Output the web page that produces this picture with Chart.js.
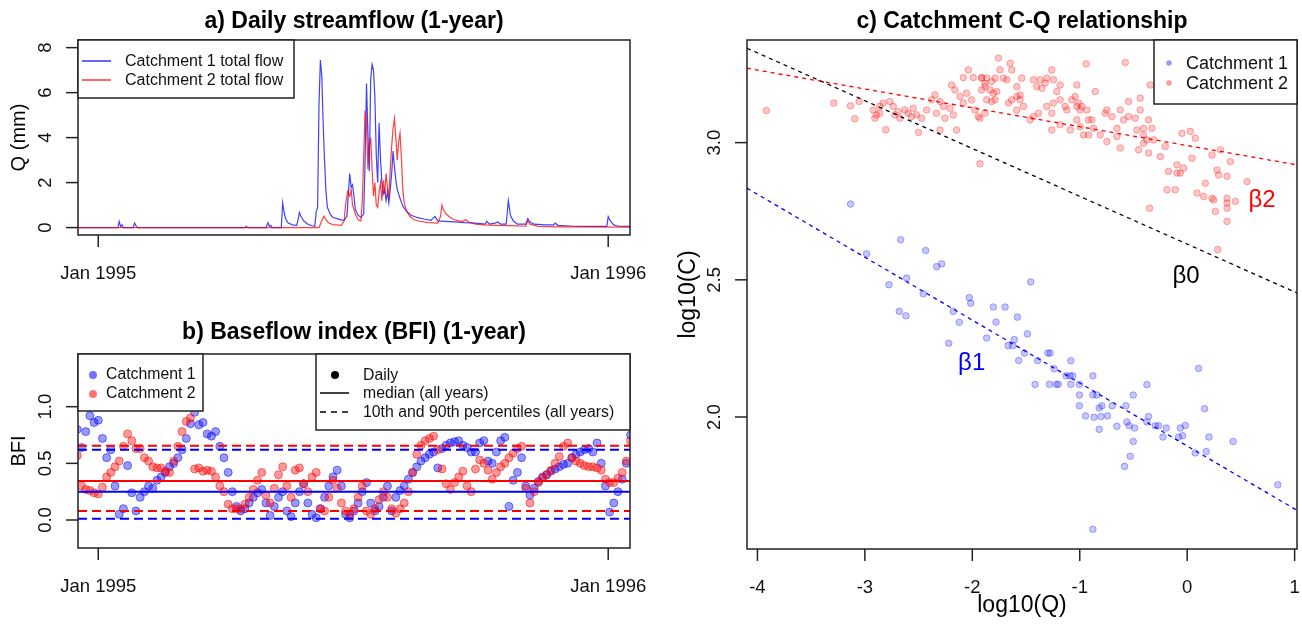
<!DOCTYPE html>
<html>
<head>
<meta charset="utf-8">
<script src="https://cdn.jsdelivr.net/npm/chart.js@4.4.1/dist/chart.umd.min.js"></script>
<style>
html, body { margin: 0; padding: 0; background: #fff; }
#wrap { position: relative; width: 1302px; height: 625px; overflow: hidden; background: #fff; }
canvas { position: absolute; }
</style>
</head>
<body>
<div id="wrap">
  <canvas id="flow" width="650" height="300" style="left:0;top:0"></canvas>
  <canvas id="bfi" width="650" height="325" style="left:0;top:300px"></canvas>
  <canvas id="cq" width="652" height="625" style="left:650px;top:0"></canvas>
</div>
<script>
// ---- a) daily streamflow (days since 1 Jan 1995, mm) ----
var flowDays1 = [-15, 14, 15, 16, 17, 18, 25, 26, 27, 28, 105, 106, 107, 120, 121.5, 122.5, 123.5, 124.5,
  131, 132, 133, 134, 136, 139, 142, 143, 144, 145, 147, 150, 153, 155, 156, 157, 158, 159, 160, 161,
  162, 163, 164, 166, 168, 171, 174, 176, 178, 179, 180, 181, 182, 183, 184, 186, 188, 190, 191, 192,
  193, 194, 195, 196, 197, 198, 199, 200, 201, 202, 203, 204, 205, 206, 207, 208, 209, 210, 211, 212,
  213, 214, 216, 218, 221, 224, 228, 233, 238, 241, 243, 248, 255, 262, 270, 277, 278, 280, 284, 286,
  288, 292, 293.5, 295, 297, 300, 306, 307.5, 309, 312, 320, 326, 327, 329, 340, 355, 364, 365, 366,
  367.5, 369, 372, 381];
var flowQ1 = [0, 0, 0.27, 0.05, 0.12, 0, 0, 0.2, 0.08, 0, 0, 0.06, 0, 0, 0.22, 0.05, 0.1, 0,
  0, 1.1, 0.7, 0.4, 0.2, 0.12, 0.1, 0.35, 0.67, 0.5, 0.3, 0.15, 0.08, 0.06, 0.7, 0.9, 5.5, 7.45, 6.75, 4.6,
  2.9, 1.6, 0.9, 0.6, 0.45, 0.4, 0.33, 0.33, 0.5, 1.5, 2.4, 1.8, 1.9, 1.4, 0.8, 0.55, 0.45, 0.6, 3.0, 6.4,
  4.2, 2.5, 6.6, 7.25, 7.0, 5.8, 3.2, 2.0, 4.65, 3.1, 2.0, 1.5, 1.7, 1.2, 1.6, 1.1, 1.7, 2.4, 3.4, 2.7,
  2.1, 1.7, 1.3, 0.95, 0.7, 0.55, 0.45, 0.38, 0.32, 0.5, 0.3, 0.28, 0.25, 0.22, 0.2, 0.15, 0.28, 0.15, 0.2, 0.25,
  0.15, 0.15, 1.2, 0.55, 0.3, 0.15, 0.15, 0.4, 0.25, 0.15, 0.12, 0.12, 0.2, 0.1, 0.06, 0.05, 0.05, 0.49, 0.35,
  0.22, 0.12, 0.06, 0.05];
var flowDays2 = [-15, 158, 160, 161.5, 163, 165, 168, 174, 176, 177, 178.5, 180, 181, 182, 184, 186, 188,
  189, 190, 191, 192, 193, 194, 195, 196, 197, 198, 199, 200, 201, 202, 203, 204, 205, 206, 207, 208,
  209, 210, 211, 212, 213, 214, 215, 216, 217, 218, 219, 221, 223, 226, 230, 236, 243, 245, 246, 247,
  249, 252, 255, 258, 261, 263, 265, 270, 276, 285, 300, 306, 307.5, 309, 315, 330, 381];
var flowQ2 = [0, 0, 0.3, 0.5, 0.35, 0.2, 0.13, 0.1, 0.3, 1.0, 1.6, 1.4, 1.7, 1.0, 0.6, 0.35, 0.3,
  1.2, 3.2, 5.2, 4.6, 2.6, 3.6, 4.0, 2.6, 1.4, 2.0, 1.0, 0.9, 1.6, 2.0, 1.2, 2.1, 1.5, 2.4, 1.8, 1.3,
  2.6, 3.6, 4.4, 4.86, 4.0, 3.0, 3.8, 4.2, 3.1, 1.7, 1.1, 0.7, 0.5, 0.35, 0.28, 0.22, 0.2, 0.5, 1.0, 0.8,
  0.6, 0.45, 0.35, 0.3, 0.28, 0.35, 0.25, 0.15, 0.12, 0.1, 0.08, 0.06, 0.3, 0.15, 0.05, 0.03, 0.02];
var dateTicks = [0, 365];
var dateLabels = ["Jan 1995", "Jan 1996"];
var flowTicks = [0, 2, 4, 6, 8];

// ---- b) baseflow index, daily values read every third day ----
var bfiDays = [-15, -12, -9, -6, -3, 0, 3, 6, 9, 12,
  15, 18, 21, 24, 27, 30, 33, 36, 39, 42,
  45, 48, 51, 54, 57, 60, 63, 66, 69, 72,
  75, 78, 81, 84, 87, 90, 93, 96, 99, 102,
  105, 108, 111, 114, 117, 120, 123, 126, 129, 132,
  135, 138, 141, 144, 147, 150, 153, 156, 159, 162,
  165, 168, 171, 174, 177, 180, 183, 186, 189, 192,
  195, 198, 201, 204, 207, 210, 213, 216, 219, 222,
  225, 228, 231, 234, 237, 240, 243, 246, 249, 252,
  255, 258, 261, 264, 267, 270, 273, 276, 279, 282,
  285, 288, 291, 294, 297, 300, 303, 306, 309, 312,
  315, 318, 321, 324, 327, 330, 333, 336, 339, 342,
  345, 348, 351, 354, 357, 360, 363, 366, 369, 372,
  375, 378, 381];
var bfi1 = [0.80, 0.64, 0.78, 0.92, 0.86, 0.88, 0.72, 0.55, 0.62, 0.30,
  0.05, 0.10, 0.48, 0.24, 0.08, 0.20, 0.25, 0.30, 0.28, 0.35,
  0.38, 0.42, 0.47, 0.50, 0.55, 0.62, 0.72, 0.85, 0.95, 0.84,
  0.86, 0.76, 0.74, 0.78, 0.65, 0.55, 0.42, 0.25, 0.12, 0.08,
  0.10, 0.15, 0.20, 0.24, 0.27, 0.15, 0.04, 0.12, 0.20, 0.25,
  0.08, 0.03, 0.15, 0.25, 0.32, 0.15, 0.05, 0.02, 0.10, 0.20,
  0.30, 0.38, 0.44, 0.30, 0.05, 0.02, 0.08, 0.15, 0.25, 0.33,
  0.15, 0.08, 0.12, 0.20, 0.30, 0.08, 0.20, 0.26, 0.30, 0.36,
  0.42, 0.47, 0.52, 0.55, 0.58, 0.60, 0.46, 0.63, 0.66, 0.68,
  0.69, 0.70, 0.66, 0.64, 0.60, 0.60, 0.68, 0.70, 0.52, 0.50,
  0.60, 0.70, 0.73, 0.12, 0.35, 0.42, 0.55, 0.30, 0.22, 0.28,
  0.34, 0.38, 0.40, 0.43, 0.45, 0.47, 0.49, 0.50, 0.55, 0.58,
  0.60, 0.62, 0.63, 0.60, 0.68, 0.50, 0.30, 0.07, 0.15, 0.25,
  0.36, 0.50, 0.75];
var bfi2 = [0.57, 0.30, 0.27, 0.26, 0.24, 0.23, 0.29, 0.38, 0.42, 0.47,
  0.52, 0.65, 0.76, 0.70, 0.63, 0.63, 0.55, 0.52, 0.47, 0.46,
  0.46, 0.43, 0.42, 0.52, 0.65, 0.78, 0.87, 0.90, 0.45, 0.46,
  0.43, 0.44, 0.43, 0.38, 0.30, 0.25, 0.14, 0.10, 0.10, 0.10,
  0.14, 0.20, 0.27, 0.35, 0.42, 0.22, 0.15, 0.28, 0.40, 0.47,
  0.30, 0.20, 0.44, 0.46, 0.32, 0.25, 0.38, 0.42, 0.10, 0.08,
  0.20, 0.35, 0.28, 0.15, 0.08, 0.05, 0.10, 0.20, 0.30, 0.08,
  0.05, 0.10, 0.18, 0.25, 0.20, 0.10, 0.06, 0.10, 0.15, 0.25,
  0.42, 0.58, 0.66, 0.70, 0.72, 0.74, 0.62, 0.45, 0.32, 0.27,
  0.33, 0.38, 0.43, 0.30, 0.25, 0.45, 0.53, 0.50, 0.44, 0.36,
  0.42, 0.47, 0.50, 0.55, 0.59, 0.63, 0.65, 0.28, 0.15, 0.25,
  0.33, 0.37, 0.40, 0.44, 0.50, 0.56, 0.65, 0.68, 0.55, 0.52,
  0.50, 0.48, 0.47, 0.47, 0.46, 0.44, 0.36, 0.33, 0.33, 0.37,
  0.42, 0.52, 0.70];
var bfiMedian = [0.25, 0.344];   // catchment 1, catchment 2
var bfiP10 = [0.012, 0.079];
var bfiP90 = [0.62, 0.656];
var bfiTicks = [0, 0.5, 1];
var bfiTickLabels = ["0.0", "0.5", "1.0"];

// ---- c) C-Q relationship (log10 Q, log10 C) ----
var cq1Q = [-3.133, -2.667, -2.984, -2.776, -2.611, -2.434, -2.332, -2.285, -2.457, -2.68, -2.618, -2.177,
  -2.028, -2.015, -2.121, -2.22, -1.866, -1.456, -1.804, -1.695, -1.58, -1.779, -1.487, -1.667, -1.624,
  -1.609, -1.515, -1.568, -1.391, -1.297, -1.276, -1.239, -1.416, -1.283, -1.22, -1.199, -1.127, -1.09,
  -1.065, -1.083, -1.083, -1.003, -1.003, -0.878, -0.878, -0.841, -1.003, -0.947, -0.866, -0.803, -0.819,
  -0.794, -0.819, -0.742, -0.698, -0.654, -0.57, -0.502, -0.561, -0.54, -0.49, -0.502, -0.53, -0.583,
  -0.375, -0.36, -0.375, -0.297, -0.267, -0.226, -0.195, -0.08, -0.064, -0.043, -0.018, 0.075, 0.106,
  0.162, 0.178, 0.203, 0.427, 0.843, -0.878];
var cq1C = [2.776, 2.646, 2.595, 2.482, 2.506, 2.607, 2.548, 2.558, 2.449, 2.385, 2.369, 2.385,
  2.435, 2.415, 2.345, 2.269, 2.288, 2.492, 2.401, 2.401, 2.364, 2.346, 2.303, 2.26, 2.26,
  2.282, 2.233, 2.206, 2.206, 2.233, 2.233, 2.176, 2.119, 2.119, 2.119, 2.119, 2.15, 2.15,
  2.15, 2.205, 2.119, 2.119, 2.08, 2.15, 2.08, 2.08, 2.041, 2.004, 1.999, 2.002, 2.033,
  2.041, 1.955, 2.004, 2.041, 1.966, 2.041, 2.08, 1.982, 1.968, 1.96, 1.911, 1.857, 1.82,
  2.118, 2.002, 1.982, 1.968, 1.968, 1.927, 1.96, 1.927, 1.96, 1.932, 1.969, 1.869, 2.177,
  2.03, 1.874, 1.927, 1.911, 1.753, 1.591];
var cq2Q = [-3.917, -3.289, -3.134, -3.053, -3.094, -2.923, -2.892, -2.861, -2.83, -2.907, -2.805, -2.767,
  -2.736, -2.69, -2.674, -2.628, -2.597, -2.55, -2.519, -2.472, -2.5, -2.348, -2.301, -2.27, -2.333,
  -2.255, -2.208, -2.177, -2.301, -2.146, -2.193, -2.162, -2.115, -2.084, -2.053, -2.006, -1.975, -1.944,
  -2.037, -2.084, -1.991, -1.913, -1.882, -1.913, -1.929, -1.929, -1.882, -2.861, -2.721, -2.566, -2.426,
  -2.379,
  -1.757, -1.648, -1.742, -1.912, -1.866, -1.819, -1.788, -1.711, -1.679, -1.881, -1.835, -1.804, -1.773,
  -1.633, -1.54, -1.586, -1.866, -1.819, -1.788, -1.664, -1.633, -1.586, -1.555, -1.524, -1.586, -1.555,
  -1.431, -1.369, -1.307, -1.4, -1.353, -1.322, -1.245, -1.26, -1.182, -1.213, -1.431, -1.384, -1.462,
  -1.307, -1.26, -1.245, -1.182, -1.136, -1.12, -1.074, -1.043, -1.027, -0.996, -1.012, -0.98, -1.027,
  -0.856, -0.94, -1.26, -1.182, -1.089, -1.027, -0.996, -0.934, -0.918, -0.887, -0.872, -0.965, -0.763,
  -0.701, -0.654, -0.592, -0.546, -0.483, -0.468, -0.406, -0.359, -0.328, -0.748, -0.623, -0.546, -0.437,
  -0.437, -0.654, -0.748, -0.81, -0.918, -0.577, -0.344, -0.623, -0.452, -0.406, -0.359, -0.25, -0.204,
  -0.406, -0.375, -0.313, -0.173, -0.095, -0.049, 0.029, 0.076, 0.045, -0.033, -0.188, -0.111, -0.095,
  -0.064, 0.091, 0.153, 0.231, 0.169, 0.231, 0.309, 0.278, 0.293, 0.371, 0.402, 0.247, 0.371, 0.371,
  0.448, 0.262, 0.371, 0.557, 0.371, -0.35, 0.284];
var cq2C = [3.117, 3.144, 3.134, 3.15, 3.087, 3.119, 3.101, 3.132, 3.144, 3.089, 3.047, 3.15,
  3.132, 3.113, 3.089, 3.119, 3.107, 3.125, 3.101, 3.089, 3.037, 3.174, 3.15, 3.132, 3.107,
  3.089, 3.125, 3.101, 3.046, 3.046, 3.21, 3.192, 3.168, 3.144, 3.18, 3.156, 3.119, 3.095,
  3.265, 3.237, 3.237, 3.237, 3.216, 3.192, 2.923, 3.089, 3.107, 3.107, 3.101, 3.095, 3.119,
  3.156,
  3.308, 3.289, 3.265, 3.235, 3.235, 3.223, 3.235, 3.235, 3.229, 3.204, 3.192, 3.18, 3.186,
  3.265, 3.235, 3.204, 3.156, 3.15, 3.156, 3.144, 3.156, 3.119, 3.156, 3.132, 3.168, 3.174,
  3.229, 3.229, 3.235, 3.204, 3.198, 3.217, 3.229, 3.265, 3.21, 3.186, 3.095, 3.107, 3.083,
  3.132, 3.107, 3.144, 3.156, 3.132, 3.119, 3.156, 3.168, 3.132, 3.119, 3.144, 3.132, 3.21,
  3.186, 3.287, 3.046, 3.065, 3.046, 3.083, 3.058, 3.119, 3.083, 3.083, 3.052, 3.028, 3.107,
  3.095, 3.052, 3.083, 3.095, 3.089, 3.046, 3.052, 3.083, 3.052, 3.119, 3.119, 3.15, 3.162,
  3.119, 3.022, 3.004, 3.028, 3.028, 3.292, 3.21, 2.98, 2.974, 2.998, 2.962, 2.949, 2.986,
  3.028, 3.01, 3.01, 2.895, 2.919, 3.034, 3.041, 3.016, 2.943, 2.907, 2.828, 2.828, 2.889,
  2.889, 2.816, 2.804, 2.797, 2.852, 2.955, 2.974, 2.9, 2.882, 2.877, 2.931, 2.791, 2.797, 2.78,
  2.786, 2.749, 2.713, 2.858, 2.761, 2.761, 2.61];
// fitted C-Q lines, evaluated at the plot edges
var fitQ = [-4.097, 1.022];
var fitAll = [3.344, 2.452];
var fitC1 = [2.834, 1.660];
var fitC2 = [3.271, 2.919];
var betaText = ["\u03b22", "\u03b20", "\u03b21"];
var betaQ = [0.697, -0.011, -2.006];
var betaC = [2.791, 2.512, 2.197];
var betaColor = ["#ff0000", "#000000", "#0000ff"];
var cqXTicks = [-4, -3, -2, -1, 0, 1];
var cqYTicks = [2, 2.5, 3];
var cqYLabels = ["2.0", "2.5", "3.0"];

var FONT = '"Liberation Sans", Arial, sans-serif';
var dayRange = [-14.5, 380.6];

function pts(xs, ys) {
  return xs.map(function (x, i) { return { x: x, y: ys[i] }; });
}

function baseOptions(pad, xr, yr) {
  return {
    responsive: false,
    animation: false,
    devicePixelRatio: 1,
    layout: { padding: pad },
    plugins: { legend: { display: false }, tooltip: { enabled: false } },
    scales: {
      x: { type: 'linear', display: false, min: xr[0], max: xr[1] },
      y: { type: 'linear', display: false, min: yr[0], max: yr[1] }
    }
  };
}

// R-style box, ticks, rotated y labels, titles
function frame(o) {
  return {
    id: 'frame',
    afterDraw: function (chart) {
      var c = chart.ctx, a = chart.chartArea, sx = chart.scales.x, sy = chart.scales.y;
      c.save();
      c.strokeStyle = '#222';
      c.lineWidth = 1.5;
      c.strokeRect(a.left, a.top, a.right - a.left, a.bottom - a.top);
      c.fillStyle = '#111';
      c.font = '18.5px ' + FONT;
      c.textAlign = 'center';
      c.textBaseline = 'alphabetic';
      o.xTicks.forEach(function (v, i) {
        var p = sx.getPixelForValue(v);
        c.beginPath(); c.moveTo(p, a.bottom); c.lineTo(p, a.bottom + 12); c.stroke();
        c.fillText(o.xLabels[i], p, a.bottom + 44);
      });
      o.yTicks.forEach(function (v, i) {
        var p = sy.getPixelForValue(v);
        c.beginPath(); c.moveTo(a.left, p); c.lineTo(a.left - 12, p); c.stroke();
        c.save();
        c.translate(a.left - 27, p);
        c.rotate(-Math.PI / 2);
        c.fillText(o.yLabels[i], 0, 0);
        c.restore();
      });
      c.fillStyle = '#000';
      c.font = 'bold 23px ' + FONT;
      c.fillText(o.title, (a.left + a.right) / 2, o.titleY);
      c.font = o.axisFont + 'px ' + FONT;
      if (o.xTitle) c.fillText(o.xTitle, (a.left + a.right) / 2, a.bottom + o.xTitleOff);
      if (o.yTitle) {
        c.save();
        c.translate(o.yTitleX, (a.top + a.bottom) / 2);
        c.rotate(-Math.PI / 2);
        c.fillText(o.yTitle, 0, 0);
        c.restore();
      }
      if (o.extra) o.extra(c, chart);
      c.restore();
    }
  };
}

function box(c, x0, y0, x1, y1) {
  c.fillStyle = '#fff';
  c.fillRect(x0, y0, x1 - x0, y1 - y0);
  c.strokeStyle = '#222';
  c.lineWidth = 1.5;
  c.setLineDash([]);
  c.strokeRect(x0, y0, x1 - x0, y1 - y0);
}
function seg(c, x0, x1, y, col, w, dash) {
  c.strokeStyle = col; c.lineWidth = w; c.setLineDash(dash || []);
  c.beginPath(); c.moveTo(x0, y); c.lineTo(x1, y); c.stroke();
  c.setLineDash([]);
}
function dot(c, x, y, r, fill) {
  c.fillStyle = fill;
  c.beginPath(); c.arc(x, y, r, 0, Math.PI * 2); c.fill();
}
function label(c, txt, x, y, size, col) {
  c.font = size + 'px ' + FONT;
  c.fillStyle = col || '#111';
  c.textAlign = 'left';
  c.textBaseline = 'middle';
  c.fillText(txt, x, y);
}

// ---------- panel a ----------
new Chart(document.getElementById('flow'), {
  type: 'scatter',
  data: {
    datasets: [
      { data: pts(flowDays2, flowQ2), showLine: true, borderColor: 'rgba(255,0,0,0.75)', borderWidth: 1.2,
        pointRadius: 0, order: 0 },
      { data: pts(flowDays1, flowQ1), showLine: true, borderColor: 'rgba(0,0,255,0.75)', borderWidth: 1.2,
        pointRadius: 0, order: 1 }
    ]
  },
  options: baseOptions({ left: 78, top: 40, right: 20, bottom: 65 }, dayRange, [-0.33, 8.34]),
  plugins: [frame({
    xTicks: dateTicks, xLabels: dateLabels,
    yTicks: flowTicks, yLabels: flowTicks.map(String),
    title: 'a) Daily streamflow (1-year)', titleY: 28,
    axisFont: 20, yTitle: 'Q (mm)', yTitleX: 25,
    extra: function (c) {
      box(c, 78, 40, 294, 98);
      seg(c, 82, 111, 61, '#3333ff', 1.5);
      seg(c, 82, 111, 80, '#ff3333', 1.5);
      label(c, 'Catchment 1 total flow', 125, 62, 16);
      label(c, 'Catchment 2 total flow', 125, 81, 16);
    }
  })]
});

// ---------- panel b ----------
function hline(v, col, dash) {
  return { data: pts(dayRange, [v, v]), showLine: true, borderColor: col, borderWidth: 2,
    borderDash: dash || [], pointRadius: 0, order: 0 };
}
new Chart(document.getElementById('bfi'), {
  type: 'scatter',
  data: {
    datasets: [
      hline(bfiMedian[0], '#0000ff'), hline(bfiMedian[1], '#ff0000'),
      hline(bfiP10[0], '#0000ff', [9, 5]), hline(bfiP10[1], '#ff0000', [9, 5]),
      hline(bfiP90[0], '#0000ff', [9, 5]), hline(bfiP90[1], '#ff0000', [9, 5]),
      { data: pts(bfiDays, bfi2), pointRadius: 4, pointBackgroundColor: 'rgba(255,0,0,0.4)',
        pointBorderColor: 'rgba(255,0,0,0.5)', pointBorderWidth: 1, order: 1 },
      { data: pts(bfiDays, bfi1), pointRadius: 4, pointBackgroundColor: 'rgba(0,0,255,0.4)',
        pointBorderColor: 'rgba(0,0,255,0.5)', pointBorderWidth: 1, order: 2 }
    ]
  },
  options: baseOptions({ left: 78, top: 54, right: 20, bottom: 77 }, dayRange, [-0.247, 1.465]),
  plugins: [frame({
    xTicks: dateTicks, xLabels: dateLabels,
    yTicks: bfiTicks, yLabels: bfiTickLabels,
    title: 'b) Baseflow index (BFI) (1-year)', titleY: 39,
    axisFont: 20, yTitle: 'BFI', yTitleX: 25,
    extra: function (c) {
      box(c, 78, 54, 203, 111);
      dot(c, 93, 75, 4, 'rgba(0,0,255,0.55)');
      dot(c, 93, 94, 4, 'rgba(255,0,0,0.55)');
      label(c, 'Catchment 1', 106, 75, 15.8);
      label(c, 'Catchment 2', 106, 94, 15.8);
      box(c, 316, 54, 630, 130);
      dot(c, 335, 75, 4, '#000');
      seg(c, 320, 349, 93, '#000', 1.5);
      seg(c, 320, 349, 112, '#000', 1.5, [6, 5]);
      label(c, 'Daily', 363, 76, 15.8);
      label(c, 'median (all years)', 363, 94, 15.8);
      label(c, '10th and 90th percentiles (all years)', 363, 113, 15.8);
    }
  })]
});

// ---------- panel c ----------
function fitLine(ys, col) {
  return { data: pts(fitQ, ys), showLine: true, borderColor: col, borderWidth: 1.3,
    borderDash: [4, 4], pointRadius: 0, order: 0 };
}
new Chart(document.getElementById('cq'), {
  type: 'scatter',
  data: {
    datasets: [
      fitLine(fitAll, '#000000'), fitLine(fitC2, '#ff0000'), fitLine(fitC1, '#0000ff'),
      { data: pts(cq2Q, cq2C), pointRadius: 3.3, pointBackgroundColor: 'rgba(255,0,0,0.22)',
        pointBorderColor: 'rgba(255,0,0,0.3)', pointBorderWidth: 1, order: 1 },
      { data: pts(cq1Q, cq1C), pointRadius: 3.3, pointBackgroundColor: 'rgba(0,0,255,0.22)',
        pointBorderColor: 'rgba(0,0,255,0.3)', pointBorderWidth: 1, order: 2 }
    ]
  },
  options: baseOptions({ left: 97, top: 40, right: 5, bottom: 76 }, [-4.097, 1.022], [1.519, 3.374]),
  plugins: [frame({
    xTicks: cqXTicks, xLabels: cqXTicks.map(String),
    yTicks: cqYTicks, yLabels: cqYLabels,
    title: 'c) Catchment C-Q relationship', titleY: 28,
    axisFont: 23, xTitle: 'log10(Q)', xTitleOff: 63, yTitle: 'log10(C)', yTitleX: 45,
    extra: function (c, chart) {
      var sx = chart.scales.x, sy = chart.scales.y;
      c.font = '24px ' + FONT;
      c.textAlign = 'center';
      c.textBaseline = 'middle';
      betaText.forEach(function (t, i) {
        c.fillStyle = betaColor[i];
        c.fillText(t, sx.getPixelForValue(betaQ[i]), sy.getPixelForValue(betaC[i]));
      });
      box(c, 504, 40, 647, 104);
      dot(c, 519, 63, 2.8, 'rgba(0,0,255,0.4)');
      dot(c, 519, 83, 2.8, 'rgba(255,0,0,0.4)');
      label(c, 'Catchment 1', 536, 64, 18);
      label(c, 'Catchment 2', 536, 84, 18);
    }
  })]
});
</script>
</body>
</html>
